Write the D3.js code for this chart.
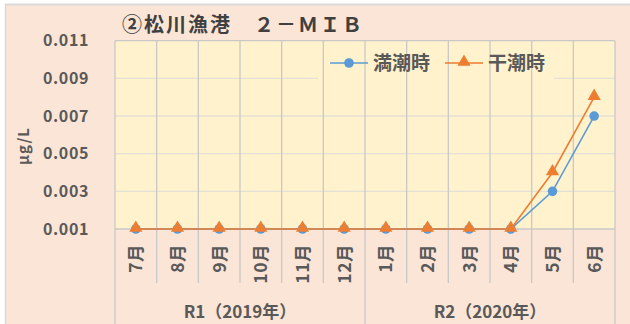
<!DOCTYPE html>
<html>
<head>
<meta charset="utf-8">
<script src="https://cdn.jsdelivr.net/npm/d3@7"></script>
<style>
  body { margin: 0; background: #fff; }
  text { font-family: "Noto Sans CJK JP", sans-serif; fill: #595959; }
</style>
</head>
<body>
<svg id="chart" width="630" height="324"></svg>
<script>
const months = ["7月", "8月", "9月", "10月", "11月", "12月", "1月", "2月", "3月", "4月", "5月", "6月"];
const groups = [
  { label: "R1（2019年）", from: 0, to: 6 },
  { label: "R2（2020年）", from: 6, to: 12 }
];
const highTide = [0.001, 0.001, 0.001, 0.001, 0.001, 0.001, 0.001, 0.001, 0.001, 0.001, 0.003, 0.007];
const lowTide = [0.001, 0.001, 0.001, 0.001, 0.001, 0.001, 0.001, 0.001, 0.001, 0.001, 0.004, 0.008];
const yTicks = [0.001, 0.003, 0.005, 0.007, 0.009, 0.011];

const svg = d3.select("#chart");
const plotL = 115, plotR = 615, plotT = 40.7, plotB = 229;

// background
svg.append("rect").attr("x", 5).attr("y", 4).attr("width", 625).attr("height", 320)
  .attr("fill", "#fbe5d6");
svg.append("line").attr("x1", 5).attr("x2", 630).attr("y1", 4.5).attr("y2", 4.5)
  .attr("stroke", "#d9d9d9").attr("stroke-width", 2);
svg.append("line").attr("x1", 5.5).attr("x2", 5.5).attr("y1", 4).attr("y2", 324)
  .attr("stroke", "#d9d9d9").attr("stroke-width", 1.5);

const x = d3.scaleBand().domain(d3.range(months.length)).range([plotL, plotR]);
const y = d3.scaleLinear().domain([0.001, 0.011]).range([plotB, plotT]);

svg.append("rect").attr("x", plotL).attr("y", plotT).attr("width", plotR - plotL).attr("height", plotB - plotT)
  .attr("fill", "#fff2cc");

// horizontal grid
svg.append("g").selectAll("line").data(yTicks.slice(1, -1)).join("line")
  .attr("x1", plotL).attr("x2", plotR)
  .attr("y1", d => y(d)).attr("y2", d => y(d))
  .attr("stroke", "#e3e0d6").attr("stroke-width", 1.3);

// legend box (covers grid)
svg.append("rect").attr("x", 318).attr("y", 45).attr("width", 236).attr("height", 34)
  .attr("fill", "#fff2cc");

// vertical grid + category ticks
svg.append("g").selectAll("line").data(d3.range(1, months.length)).join("line")
  .attr("x1", d => x(d)).attr("x2", d => x(d))
  .attr("y1", plotT).attr("y2", d => d === 6 ? 324 : 283)
  .attr("stroke", "#c8c8c8").attr("stroke-width", 1.3);
svg.append("g").selectAll("line").data([plotL, plotR]).join("line")
  .attr("x1", d => d).attr("x2", d => d)
  .attr("y1", plotT).attr("y2", 324)
  .attr("stroke", "#c8c8c8").attr("stroke-width", 1.3);
svg.append("line").attr("x1", plotL).attr("x2", plotR).attr("y1", plotT).attr("y2", plotT)
  .attr("stroke", "#c8c8c8").attr("stroke-width", 1.3);
svg.append("line").attr("x1", plotL).attr("x2", plotR).attr("y1", plotB).attr("y2", plotB)
  .attr("stroke", "#c8c8c8").attr("stroke-width", 1.3);

// y tick labels
svg.append("g").selectAll("text").data(yTicks).join("text")
  .attr("x", 89).attr("y", d => y(d)).attr("dy", "0.36em")
  .attr("text-anchor", "end").attr("font-size", 16).attr("font-weight", "bold")
  .attr("letter-spacing", 0.6)
  .text(d => d3.format(".3f")(d));

// y title
svg.append("text").attr("transform", "translate(29,146) rotate(-90)")
  .attr("text-anchor", "middle").attr("font-size", 15).attr("font-weight", "bold")
  .attr("letter-spacing", 1)
  .text("μg/L");

// month labels
svg.append("g").selectAll("text").data(months).join("text")
  .attr("transform", (d, i) => `translate(${x(i) + x.bandwidth() / 2 + 6.5},244) rotate(-90)`)
  .attr("text-anchor", "end").attr("font-size", 17.5).attr("font-weight", "bold")
  .attr("letter-spacing", 0.5)
  .text(d => d);

// group labels
svg.append("g").selectAll("text").data(groups).join("text")
  .attr("x", d => (x(d.from) + (d.to < months.length ? x(d.to) : plotR)) / 2)
  .attr("y", 318).attr("text-anchor", "middle")
  .attr("font-size", 17).attr("font-weight", "bold")
  .text(d => d.label);

// title
svg.append("text").attr("x", 122).attr("y", 32)
  .attr("font-size", 20).attr("font-weight", "bold")
  .attr("letter-spacing", 2)
  .style("fill", "#404040")
  .text("②松川漁港　２－ＭＩＢ");

const cx = i => x(i) + x.bandwidth() / 2;
const line = d3.line().x((d, i) => cx(i)).y(d => y(d));
const tri = d3.symbol().type(d3.symbolTriangle).size(75);

svg.append("path").datum(highTide).attr("d", line)
  .attr("fill", "none").attr("stroke", "#5b9bd5").attr("stroke-width", 1.6);
svg.append("g").selectAll("circle").data(highTide).join("circle")
  .attr("cx", (d, i) => cx(i)).attr("cy", d => y(d)).attr("r", 4.8)
  .attr("fill", "#5b9bd5");

svg.append("path").datum(lowTide).attr("d", line)
  .attr("fill", "none").attr("stroke", "#ed7d31").attr("stroke-width", 1.6);
svg.append("g").selectAll("path.tri").data(lowTide).join("path")
  .attr("class", "tri")
  .attr("transform", (d, i) => `translate(${cx(i)},${y(d) - 1})`)
  .attr("d", tri).attr("fill", "#ed7d31");

// legend
const legend = [
  { name: "満潮時", color: "#5b9bd5", shape: "circle", x: 330 },
  { name: "干潮時", color: "#ed7d31", shape: "triangle", x: 445 }
];
legend.forEach(l => {
  const g = svg.append("g").attr("transform", `translate(${l.x},63)`);
  g.append("line").attr("x1", 0).attr("x2", 38).attr("stroke", l.color).attr("stroke-width", 1.6);
  if (l.shape === "circle") {
    g.append("circle").attr("cx", 19).attr("r", 4.8).attr("fill", l.color);
  } else {
    g.append("path").attr("transform", "translate(19,-1)").attr("d", tri).attr("fill", l.color);
  }
  g.append("text").attr("x", 43).attr("dy", "0.36em").attr("font-size", 19).attr("font-weight", "bold")
    .text(l.name);
});
</script>
</body>
</html>
